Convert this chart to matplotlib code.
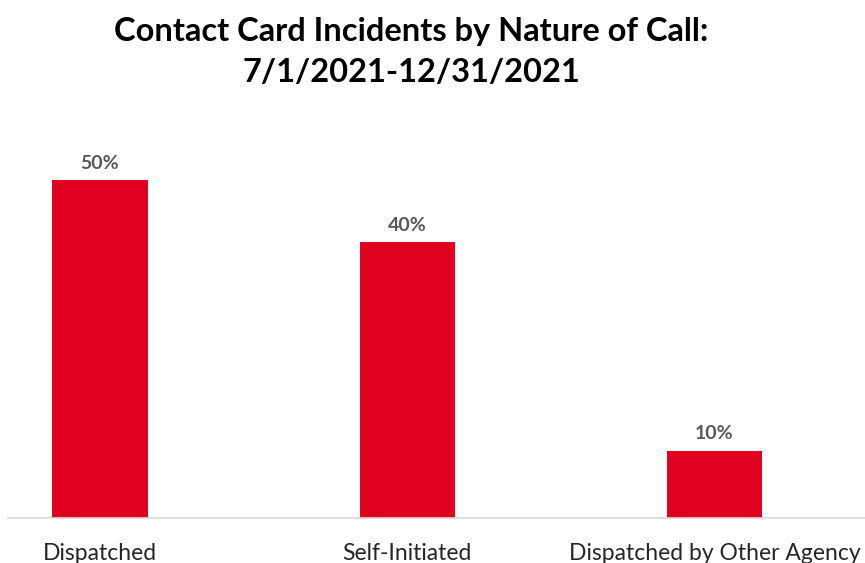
import matplotlib.pyplot as plt

plt.rcParams['font.family'] = ['Lato', 'DejaVu Sans']

categories = ['Dispatched', 'Self-Initiated', 'Dispatched by Other Agency']
shares = [0.496, 0.405, 0.099]
labels = ['50%', '40%', '10%']


def plot_bars():
    fig = plt.figure(figsize=(8.65, 5.63), dpi=100)
    ax = fig.add_axes([0.009, 0.08, 0.991, 0.7257])
    x = range(len(categories))
    bars = ax.bar(x, shares, width=0.31, color='#E0001F')
    for bar, lab in zip(bars, labels):
        ax.text(bar.get_x() + bar.get_width() / 2, bar.get_height() + 0.012,
                lab, ha='center', va='bottom', fontsize=14,
                fontweight='bold', color='#595959')

    ax.set_xlim(-0.30, 2.49)
    ax.set_ylim(0, 0.6)
    ax.set_xticks(list(x))
    ax.set_xticklabels(categories, fontsize=16.5, color='#262626')
    ax.tick_params(axis='x', length=0, pad=18)
    ax.set_yticks([])
    for side in ['top', 'right', 'left']:
        ax.spines[side].set_visible(False)
    ax.spines['bottom'].set_color('#D9D9D9')
    ax.spines['bottom'].set_linewidth(1.2)

    fig.text(0.475, 0.907, 'Contact Card Incidents by Nature of Call:\n7/1/2021-12/31/2021',
             ha='center', va='center', fontsize=23.5, fontweight='bold',
             linespacing=1.5)
    fig.savefig('out.png')


if __name__ == "__main__":
    plot_bars()
